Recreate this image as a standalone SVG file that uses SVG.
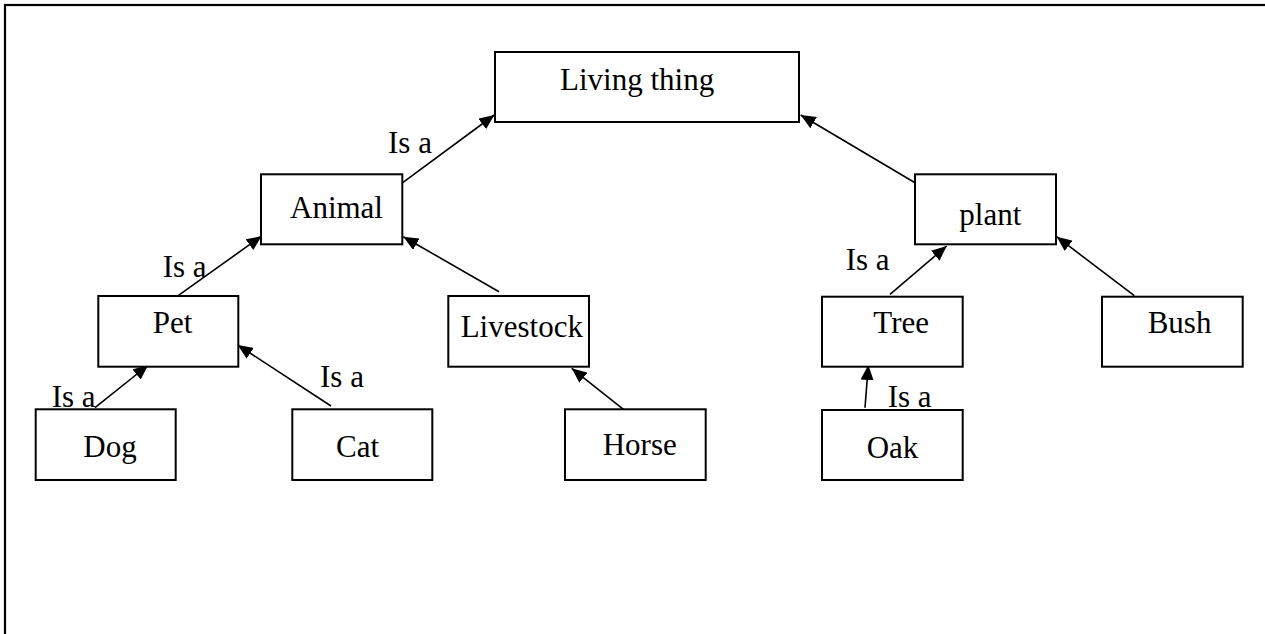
<svg xmlns="http://www.w3.org/2000/svg" width="1265" height="634" viewBox="0 0 1265 634">
  <style>
    .box { fill: #fff; stroke: #000; stroke-width: 2; }
    .lbl { font-family: "Liberation Serif", "Times New Roman", serif; font-size: 31px; fill: #000; }
    .edge { stroke: #000; stroke-width: 1.6; fill: none; marker-end: url(#head); }
  </style>
  <defs>
    <marker id="head" markerUnits="userSpaceOnUse" markerWidth="16" markerHeight="13" refX="15" refY="6.5" orient="auto">
      <path d="M0,0 L15,6.5 L0,13 z" fill="#000"/>
    </marker>
  </defs>

  <rect width="1265" height="634" fill="#fff"/>
  <!-- page frame -->
  <rect x="5" y="5" width="1275" height="650" fill="none" stroke="#000" stroke-width="2.2"/>

  <!-- connectors -->
  <g id="connectors">
    <line class="edge" x1="402.7" y1="182.7" x2="494.3" y2="115"/>
    <line class="edge" x1="915" y1="182.7" x2="800.7" y2="115"/>
    <line class="edge" x1="176.7" y1="296.7" x2="261.7" y2="236"/>
    <line class="edge" x1="499" y1="291.7" x2="403.3" y2="236.7"/>
    <line class="edge" x1="95" y1="407.7" x2="148.3" y2="365"/>
    <line class="edge" x1="331" y1="406" x2="237.7" y2="345"/>
    <line class="edge" x1="625" y1="410.7" x2="571.7" y2="368.3"/>
    <line class="edge" x1="890" y1="294.3" x2="946.7" y2="246"/>
    <line class="edge" x1="1134.3" y1="295.7" x2="1056.7" y2="236.7"/>
    <line class="edge" x1="865" y1="407.7" x2="868.3" y2="365"/>
    <text class="lbl" x="388" y="152.7">Is a</text>
    <text class="lbl" x="162.7" y="277.3">Is a</text>
    <text class="lbl" x="51.7" y="406.7">Is a</text>
    <text class="lbl" x="320" y="387.3">Is a</text>
    <text class="lbl" x="845.7" y="270">Is a</text>
    <text class="lbl" x="887.7" y="406.7">Is a</text>
  </g>

  <g id="living-thing">
    <rect class="box" x="495" y="52" width="304" height="70"/>
    <text class="lbl" x="560" y="90">Living thing</text>
  </g>
  <g id="animal">
    <rect class="box" x="261" y="174.3" width="141.3" height="70"/>
    <text class="lbl" x="290" y="218.3">Animal</text>
  </g>
  <g id="plant">
    <rect class="box" x="915" y="174.3" width="141" height="70"/>
    <text class="lbl" x="959.3" y="225">plant</text>
  </g>
  <g id="pet">
    <rect class="box" x="98.3" y="296" width="140" height="70.7"/>
    <text class="lbl" x="152.7" y="333.3">Pet</text>
  </g>
  <g id="livestock">
    <rect class="box" x="448.3" y="296" width="140.7" height="70.7"/>
    <text class="lbl" x="460.7" y="336.7">Livestock</text>
  </g>
  <g id="tree">
    <rect class="box" x="822" y="296.7" width="140.7" height="70"/>
    <text class="lbl" x="873.3" y="333.3">Tree</text>
  </g>
  <g id="bush">
    <rect class="box" x="1102" y="296.7" width="140.7" height="70"/>
    <text class="lbl" x="1147.7" y="333.3">Bush</text>
  </g>
  <g id="dog">
    <rect class="box" x="35.7" y="409.3" width="140" height="70.7"/>
    <text class="lbl" x="83.3" y="456.7">Dog</text>
  </g>
  <g id="cat">
    <rect class="box" x="292.3" y="409.3" width="140" height="70.7"/>
    <text class="lbl" x="336" y="456.7">Cat</text>
  </g>
  <g id="horse">
    <rect class="box" x="565" y="409.3" width="140.7" height="70.7"/>
    <text class="lbl" x="602.7" y="455">Horse</text>
  </g>
  <g id="oak">
    <rect class="box" x="822" y="410" width="140.7" height="70"/>
    <text class="lbl" x="866.7" y="458.3">Oak</text>
  </g>
</svg>
